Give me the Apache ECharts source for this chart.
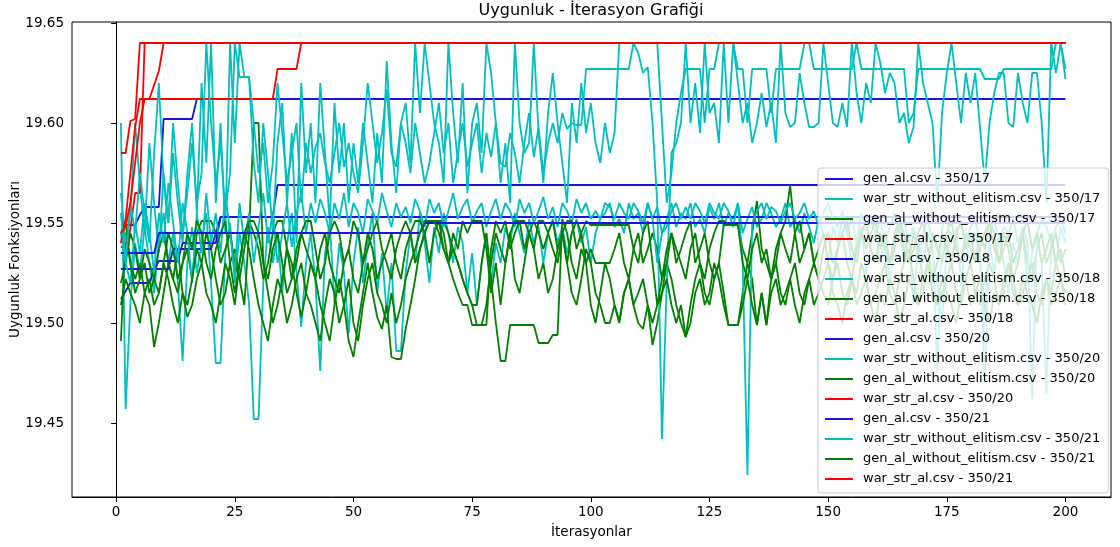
<!DOCTYPE html>
<html>
<head>
<meta charset="utf-8">
<title>Uygunluk - İterasyon Grafiği</title>
<script src="https://cdn.jsdelivr.net/npm/echarts@6/dist/echarts.min.js"></script>
<style>
  html, body { margin: 0; padding: 0; background: #fff; }
  #chart { width: 1120px; height: 547px; }
</style>
</head>
<body>
<div id="chart"></div>
<script>
// iterations 1..200
var iterations = [
  1,2,3,4,5,6,7,8,9,10,11,12,13,14,15,16,17,18,19,20,
  21,22,23,24,25,26,27,28,29,30,31,32,33,34,35,36,37,38,39,40,
  41,42,43,44,45,46,47,48,49,50,51,52,53,54,55,56,57,58,59,60,
  61,62,63,64,65,66,67,68,69,70,71,72,73,74,75,76,77,78,79,80,
  81,82,83,84,85,86,87,88,89,90,91,92,93,94,95,96,97,98,99,100,
  101,102,103,104,105,106,107,108,109,110,111,112,113,114,115,116,117,118,119,120,
  121,122,123,124,125,126,127,128,129,130,131,132,133,134,135,136,137,138,139,140,
  141,142,143,144,145,146,147,148,149,150,151,152,153,154,155,156,157,158,159,160,
  161,162,163,164,165,166,167,168,169,170,171,172,173,174,175,176,177,178,179,180,
  181,182,183,184,185,186,187,188,189,190,191,192,193,194,195,196,197,198,199,200
];

// gen_al / war_str_al : monotone runs, [iteration, value] at each change
var genAl17 = [[1,19.549],[4,19.549],[5,19.554],[6,19.558],[9,19.558],[10,19.602],[16,19.602],[17,19.612],[200,19.612]];
var genAl18 = [[1,19.512],[3,19.520],[7,19.520],[8,19.527],[11,19.527],[12,19.537],[20,19.537],[21,19.545],[22,19.553],[33,19.553],[34,19.569],[200,19.569]];
var genAl20 = [[1,19.527],[8,19.527],[9,19.531],[13,19.531],[14,19.540],[21,19.540],[22,19.553],[200,19.553]];
var genAl21 = [[1,19.535],[8,19.535],[9,19.545],[64,19.545],[65,19.550],[200,19.550]];

var warStrAl17 = [[1,19.585],[2,19.585],[3,19.601],[4,19.602],[5,19.640],[200,19.640]];
var warStrAl18 = [[1,19.538],[2,19.538],[3,19.547],[4,19.565],[5,19.565],[6,19.640],[200,19.640]];
var warStrAl20 = [[1,19.540],[2,19.552],[3,19.575],[4,19.598],[5,19.612],[33,19.612],[34,19.627],[38,19.627],[39,19.640],[200,19.640]];
var warStrAl21 = [[1,19.545],[2,19.548],[3,19.560],[4,19.580],[5,19.600],[6,19.612],[7,19.612],[8,19.619],[9,19.626],[10,19.640],[200,19.640]];

// war_str_without_elitism
var warStrNoEl17 = [
  19.600,19.457,19.510,19.540,19.525,19.548,19.530,19.515,19.540,19.555,19.530,19.545,19.520,19.481,19.530,19.548,19.525,19.540,19.555,19.520,
  19.480,19.480,19.535,19.550,19.520,19.545,19.530,19.510,19.452,19.452,19.520,19.548,19.530,19.545,19.515,19.540,19.555,19.525,19.498,19.530,
  19.545,19.520,19.476,19.535,19.550,19.510,19.540,19.525,19.495,19.530,19.548,19.520,19.540,19.555,19.515,19.535,19.505,19.530,19.486,19.486,
  19.525,19.545,19.530,19.555,19.540,19.520,19.548,19.535,19.555,19.545,19.530,19.548,19.540,19.515,19.535,19.509,19.530,19.545,19.520,19.540,
  19.530,19.548,19.540,19.555,19.545,19.535,19.552,19.540,19.548,19.530,19.545,19.552,19.540,19.548,19.535,19.545,19.552,19.540,19.548,19.530,
  19.545,19.552,19.555,19.560,19.548,19.552,19.545,19.560,19.552,19.555,19.545,19.560,19.552,19.558,19.545,19.552,19.560,19.548,19.555,19.552,
  19.560,19.548,19.552,19.545,19.558,19.552,19.560,19.548,19.555,19.552,19.560,19.545,19.552,19.558,19.548,19.552,19.560,19.555,19.548,19.552,
  19.560,19.548,19.552,19.545,19.555,19.548,19.540,19.552,19.545,19.530,19.548,19.540,19.552,19.545,19.530,19.540,19.548,19.525,19.540,19.545,
  19.530,19.545,19.520,19.540,19.548,19.530,19.545,19.510,19.540,19.530,19.545,19.535,19.520,19.500,19.540,19.530,19.548,19.520,19.540,19.530,
  19.545,19.530,19.500,19.540,19.525,19.545,19.530,19.515,19.540,19.530,19.545,19.520,19.535,19.545,19.530,19.465,19.540,19.530,19.548,19.540
];
var warStrNoEl18 = [
  19.565,19.540,19.555,19.600,19.570,19.545,19.590,19.560,19.535,19.575,19.550,19.585,19.560,19.540,19.575,19.600,19.555,19.620,19.580,19.640,
  19.560,19.600,19.545,19.640,19.590,19.640,19.623,19.623,19.580,19.560,19.600,19.575,19.545,19.590,19.610,19.560,19.595,19.540,19.620,19.575,
  19.600,19.560,19.620,19.585,19.550,19.610,19.575,19.600,19.560,19.590,19.570,19.600,19.580,19.560,19.595,19.570,19.631,19.590,19.565,19.600,
  19.610,19.580,19.640,19.605,19.640,19.620,19.600,19.590,19.570,19.640,19.605,19.580,19.620,19.565,19.600,19.610,19.585,19.640,19.625,19.600,
  19.570,19.590,19.560,19.640,19.600,19.585,19.590,19.640,19.595,19.570,19.605,19.625,19.600,19.580,19.560,19.610,19.590,19.620,19.595,19.610,
  19.590,19.580,19.600,19.585,19.595,19.640,19.640,19.640,19.640,19.635,19.625,19.628,19.600,19.560,19.442,19.520,19.585,19.590,19.600,19.640,
  19.600,19.620,19.595,19.640,19.605,19.610,19.590,19.640,19.600,19.640,19.620,19.600,19.610,19.590,19.600,19.615,19.598,19.610,19.590,19.640,
  19.605,19.598,19.600,19.625,19.610,19.598,19.598,19.600,19.640,19.620,19.600,19.598,19.610,19.598,19.640,19.615,19.600,19.620,19.610,19.640,
  19.630,19.615,19.625,19.620,19.600,19.605,19.590,19.598,19.640,19.620,19.610,19.600,19.560,19.605,19.625,19.640,19.620,19.600,19.625,19.610,
  19.625,19.598,19.570,19.600,19.615,19.625,19.625,19.600,19.598,19.625,19.610,19.600,19.625,19.625,19.600,19.560,19.640,19.625,19.640,19.622
];
var warStrNoEl20 = [
  19.545,19.530,19.520,19.550,19.535,19.560,19.545,19.525,19.555,19.540,19.570,19.550,19.530,19.560,19.545,19.520,19.555,19.535,19.565,19.540,
  19.555,19.535,19.565,19.545,19.525,19.560,19.540,19.555,19.530,19.548,19.565,19.540,19.556,19.530,19.545,19.560,19.538,19.555,19.565,19.545,
  19.560,19.550,19.562,19.555,19.545,19.560,19.552,19.565,19.548,19.560,19.555,19.545,19.562,19.556,19.550,19.565,19.556,19.548,19.560,19.553,
  19.558,19.550,19.562,19.556,19.548,19.562,19.555,19.560,19.548,19.556,19.565,19.552,19.558,19.562,19.550,19.556,19.560,19.548,19.556,19.562,
  19.552,19.560,19.556,19.548,19.562,19.555,19.560,19.550,19.556,19.563,19.552,19.558,19.548,19.560,19.556,19.550,19.562,19.555,19.560,19.552,
  19.556,19.552,19.560,19.558,19.552,19.560,19.555,19.552,19.560,19.556,19.550,19.560,19.552,19.530,19.545,19.548,19.556,19.560,19.552,19.558,
  19.552,19.560,19.556,19.550,19.560,19.555,19.552,19.560,19.556,19.548,19.560,19.530,19.424,19.550,19.556,19.560,19.552,19.558,19.556,19.550,
  19.556,19.560,19.552,19.555,19.560,19.552,19.556,19.548,19.555,19.560,19.552,19.548,19.556,19.545,19.552,19.540,19.555,19.548,19.552,19.545,
  19.552,19.540,19.548,19.555,19.545,19.552,19.540,19.548,19.530,19.545,19.552,19.540,19.475,19.548,19.552,19.540,19.545,19.550,19.540,19.548,
  19.552,19.540,19.470,19.545,19.552,19.540,19.548,19.545,19.552,19.540,19.548,19.540,19.462,19.545,19.552,19.548,19.540,19.548,19.552,19.545
];
var warStrNoEl21 = [
  19.555,19.530,19.560,19.545,19.575,19.555,19.540,19.585,19.620,19.570,19.550,19.600,19.570,19.545,19.565,19.590,19.560,19.575,19.640,19.600,
  19.570,19.590,19.555,19.575,19.640,19.623,19.623,19.623,19.600,19.575,19.590,19.560,19.580,19.620,19.595,19.570,19.585,19.600,19.560,19.590,
  19.575,19.588,19.595,19.580,19.570,19.585,19.600,19.578,19.590,19.575,19.565,19.590,19.620,19.600,19.580,19.595,19.617,19.585,19.578,19.600,
  19.590,19.575,19.600,19.585,19.570,19.580,19.595,19.610,19.585,19.600,19.570,19.585,19.600,19.578,19.590,19.600,19.575,19.595,19.583,19.600,
  19.580,19.578,19.595,19.585,19.570,19.590,19.605,19.583,19.598,19.575,19.590,19.600,19.590,19.605,19.597,19.600,19.599,19.599,19.627,19.627,
  19.627,19.627,19.627,19.627,19.627,19.627,19.627,19.627,19.640,19.640,19.640,19.640,19.640,19.640,19.600,19.560,19.575,19.600,19.615,19.627,
  19.627,19.627,19.627,19.600,19.627,19.627,19.640,19.640,19.640,19.640,19.627,19.627,19.600,19.627,19.627,19.627,19.627,19.605,19.627,19.627,
  19.627,19.627,19.627,19.627,19.640,19.640,19.627,19.627,19.627,19.627,19.627,19.627,19.627,19.627,19.627,19.640,19.627,19.627,19.627,19.627,
  19.627,19.627,19.627,19.627,19.627,19.627,19.600,19.605,19.627,19.627,19.627,19.627,19.627,19.627,19.627,19.627,19.627,19.627,19.627,19.627,
  19.627,19.627,19.622,19.622,19.622,19.622,19.627,19.627,19.627,19.627,19.627,19.627,19.627,19.627,19.627,19.627,19.627,19.640,19.640,19.627
];

// gen_al_without_elitism
var genAlNoEl17 = [
  19.491,19.545,19.530,19.522,19.530,19.515,19.509,19.488,19.500,19.515,19.530,19.522,19.537,19.515,19.503,19.509,19.522,19.530,19.545,19.537,
  19.522,19.509,19.515,19.530,19.537,19.522,19.509,19.545,19.600,19.600,19.530,19.515,19.500,19.509,19.522,19.537,19.530,19.515,19.503,19.515,
  19.530,19.522,19.509,19.500,19.491,19.509,19.522,19.509,19.491,19.483,19.500,19.515,19.530,19.515,19.503,19.497,19.509,19.483,19.482,19.482,
  19.497,19.509,19.522,19.537,19.545,19.551,19.551,19.551,19.545,19.530,19.537,19.530,19.522,19.515,19.509,19.509,19.530,19.545,19.522,19.500,
  19.481,19.481,19.499,19.499,19.499,19.499,19.499,19.499,19.490,19.490,19.490,19.494,19.494,19.552,19.545,19.530,19.522,19.537,19.530,19.509,
  19.500,19.515,19.530,19.522,19.509,19.500,19.515,19.522,19.509,19.500,19.497,19.509,19.489,19.500,19.515,19.530,19.522,19.509,19.500,19.493,
  19.509,19.522,19.530,19.515,19.509,19.522,19.530,19.515,19.499,19.499,19.499,19.515,19.530,19.522,19.499,19.515,19.499,19.522,19.530,19.515,
  19.509,19.522,19.530,19.515,19.509,19.522,19.530,19.522,19.515,19.509,19.522,19.530,19.515,19.509,19.522,19.515,19.530,19.522,19.509,19.515,
  19.522,19.530,19.515,19.509,19.522,19.530,19.537,19.522,19.509,19.515,19.530,19.522,19.509,19.515,19.522,19.530,19.515,19.509,19.522,19.530,
  19.515,19.509,19.522,19.530,19.522,19.509,19.515,19.530,19.522,19.509,19.515,19.522,19.530,19.515,19.509,19.522,19.515,19.530,19.522,19.515
];
var genAlNoEl18 = [
  19.520,19.530,19.545,19.537,19.522,19.530,19.515,19.522,19.537,19.545,19.530,19.522,19.515,19.530,19.537,19.522,19.545,19.551,19.551,19.551,
  19.545,19.530,19.537,19.545,19.530,19.522,19.537,19.551,19.545,19.537,19.522,19.530,19.545,19.551,19.551,19.537,19.522,19.530,19.545,19.537,
  19.530,19.522,19.537,19.545,19.530,19.522,19.515,19.530,19.537,19.522,19.515,19.530,19.545,19.537,19.522,19.530,19.537,19.545,19.530,19.522,
  19.537,19.545,19.551,19.551,19.545,19.551,19.551,19.551,19.551,19.545,19.537,19.530,19.522,19.515,19.509,19.499,19.499,19.499,19.537,19.551,
  19.545,19.551,19.537,19.545,19.551,19.537,19.545,19.551,19.545,19.537,19.545,19.551,19.537,19.545,19.530,19.545,19.551,19.545,19.530,19.537,
  19.530,19.530,19.530,19.530,19.537,19.545,19.530,19.522,19.537,19.545,19.530,19.537,19.545,19.537,19.522,19.530,19.545,19.537,19.530,19.522,
  19.537,19.545,19.530,19.522,19.537,19.545,19.551,19.551,19.549,19.549,19.549,19.537,19.530,19.545,19.561,19.537,19.530,19.522,19.537,19.545,
  19.551,19.569,19.545,19.530,19.537,19.545,19.530,19.522,19.537,19.545,19.530,19.537,19.545,19.530,19.522,19.537,19.545,19.551,19.537,19.530,
  19.545,19.537,19.530,19.545,19.551,19.537,19.530,19.545,19.537,19.522,19.530,19.545,19.537,19.530,19.545,19.551,19.537,19.530,19.545,19.537,
  19.530,19.545,19.537,19.551,19.545,19.530,19.537,19.545,19.530,19.537,19.545,19.530,19.522,19.537,19.545,19.530,19.537,19.545,19.530,19.537
];
var genAlNoEl20 = [
  19.545,19.551,19.530,19.515,19.522,19.537,19.530,19.522,19.515,19.530,19.545,19.537,19.522,19.530,19.545,19.537,19.551,19.545,19.530,19.522,
  19.537,19.545,19.551,19.530,19.515,19.530,19.545,19.551,19.551,19.545,19.530,19.522,19.537,19.545,19.530,19.515,19.522,19.537,19.545,19.551,
  19.551,19.537,19.522,19.530,19.545,19.551,19.545,19.530,19.537,19.551,19.545,19.530,19.537,19.545,19.551,19.537,19.530,19.522,19.537,19.545,
  19.551,19.545,19.530,19.537,19.545,19.530,19.545,19.551,19.537,19.530,19.545,19.537,19.551,19.545,19.551,19.551,19.551,19.537,19.515,19.530,
  19.509,19.530,19.545,19.551,19.551,19.551,19.545,19.537,19.551,19.551,19.545,19.537,19.530,19.545,19.551,19.551,19.537,19.545,19.551,19.549,
  19.549,19.549,19.549,19.549,19.549,19.549,19.549,19.549,19.537,19.530,19.545,19.551,19.530,19.509,19.522,19.537,19.545,19.530,19.537,19.545,
  19.551,19.530,19.537,19.545,19.530,19.522,19.530,19.549,19.549,19.549,19.549,19.530,19.522,19.537,19.545,19.530,19.537,19.522,19.530,19.545,
  19.537,19.530,19.545,19.551,19.537,19.545,19.530,19.537,19.545,19.530,19.522,19.537,19.545,19.551,19.537,19.530,19.545,19.537,19.545,19.551,
  19.537,19.545,19.530,19.537,19.551,19.545,19.530,19.537,19.545,19.551,19.537,19.522,19.530,19.545,19.537,19.530,19.545,19.551,19.537,19.545,
  19.530,19.537,19.545,19.551,19.537,19.530,19.545,19.537,19.522,19.530,19.545,19.551,19.537,19.545,19.530,19.537,19.545,19.530,19.537,19.522
];
var genAlNoEl21 = [
  19.509,19.522,19.515,19.509,19.500,19.515,19.522,19.509,19.515,19.530,19.522,19.509,19.500,19.515,19.509,19.522,19.537,19.530,19.515,19.509,
  19.500,19.515,19.530,19.522,19.509,19.530,19.545,19.537,19.522,19.509,19.500,19.491,19.509,19.522,19.515,19.500,19.509,19.522,19.530,19.515,
  19.509,19.500,19.491,19.509,19.522,19.515,19.500,19.509,19.522,19.500,19.491,19.509,19.522,19.530,19.515,19.509,19.500,19.515,19.500,19.509,
  19.522,19.530,19.537,19.545,19.551,19.551,19.551,19.545,19.537,19.530,19.522,19.515,19.509,19.509,19.499,19.499,19.499,19.509,19.530,19.545,
  19.537,19.530,19.545,19.522,19.515,19.530,19.545,19.537,19.522,19.530,19.515,19.522,19.537,19.545,19.530,19.515,19.509,19.522,19.537,19.530,
  19.515,19.509,19.500,19.500,19.509,19.501,19.515,19.522,19.509,19.515,19.522,19.509,19.500,19.509,19.515,19.522,19.509,19.500,19.509,19.493,
  19.500,19.515,19.522,19.509,19.515,19.530,19.522,19.509,19.499,19.499,19.499,19.509,19.522,19.509,19.499,19.515,19.499,19.515,19.522,19.509,
  19.515,19.522,19.509,19.500,19.515,19.522,19.509,19.515,19.522,19.530,19.515,19.509,19.500,19.515,19.522,19.509,19.515,19.522,19.509,19.500,
  19.515,19.509,19.522,19.515,19.500,19.509,19.522,19.515,19.509,19.522,19.530,19.515,19.509,19.522,19.515,19.509,19.500,19.515,19.522,19.509,
  19.515,19.522,19.509,19.500,19.515,19.509,19.522,19.530,19.515,19.509,19.522,19.515,19.509,19.500,19.515,19.522,19.509,19.515,19.522,19.509
];

var runs = ['350/17', '350/18', '350/20', '350/21'];
var colors = { gen: '#1515e6', war: '#00bfbf', genNo: '#008000', warAl: '#ff0000' };

function pairs(values) {
  return values.map(function (v, i) { return [iterations[i], v]; });
}

var blocks = [
  [genAl17, warStrNoEl17, genAlNoEl17, warStrAl17],
  [genAl18, warStrNoEl18, genAlNoEl18, warStrAl18],
  [genAl20, warStrNoEl20, genAlNoEl20, warStrAl20],
  [genAl21, warStrNoEl21, genAlNoEl21, warStrAl21]
];

var series = [];
blocks.forEach(function (b, k) {
  var r = runs[k];
  series.push({ name: 'gen_al.csv - ' + r, data: b[0], color: colors.gen });
  series.push({ name: 'war_str_without_elitism.csv - ' + r, data: pairs(b[1]), color: colors.war });
  series.push({ name: 'gen_al_without_elitism.csv - ' + r, data: pairs(b[2]), color: colors.genNo });
  series.push({ name: 'war_str_al.csv - ' + r, data: b[3], color: colors.warAl });
});
series = series.map(function (s) {
  return {
    name: s.name,
    type: 'line',
    data: s.data,
    showSymbol: false,
    symbol: 'none',
    itemStyle: { color: s.color },
    lineStyle: { color: s.color, width: 1.8 }
  };
});

var font = 'DejaVu Sans';
var chart = echarts.init(document.getElementById('chart'));
chart.setOption({
  animation: false,
  backgroundColor: '#ffffff',
  textStyle: { fontFamily: font },
  title: {
    text: 'Uygunluk - İterasyon Grafiği',
    left: 591,
    top: 3,
    padding: 0,
    textAlign: 'center',
    textStyle: { fontFamily: font, fontSize: 16, fontWeight: 'normal', color: '#000' }
  },
  grid: {
    left: 72, right: 9, top: 22, bottom: 50,
    containLabel: false,
    outerBoundsMode: 'none',
    show: true, borderColor: '#000', borderWidth: 1, backgroundColor: 'transparent'
  },
  legend: {
    orient: 'vertical',
    left: 818,
    top: 168,
    padding: [4, 8, 7, 7],
    itemGap: 6,
    itemWidth: 28,
    itemHeight: 2,
    icon: 'rect',
    backgroundColor: 'rgba(255,255,255,0.8)',
    borderColor: '#cccccc',
    borderWidth: 1,
    borderRadius: 3,
    textStyle: { fontFamily: font, fontSize: 13, lineHeight: 14, color: '#000', padding: [0, 0, 0, 5] }
  },
  xAxis: {
    type: 'value',
    min: -9.3,
    max: 209.6,
    minInterval: 25,
    maxInterval: 25,
    name: 'İterasyonlar',
    nameLocation: 'middle',
    nameGap: 28,
    nameTextStyle: { fontFamily: font, fontSize: 13.5, color: '#000' },
    axisLine: { show: true, lineStyle: { color: '#000', width: 1 } },
    axisTick: { show: true, length: 5, lineStyle: { color: '#000' } },
    axisLabel: { showMinLabel: false, showMaxLabel: false, margin: 8, fontFamily: font, fontSize: 13.5, color: '#000' },
    splitLine: { show: false }
  },
  yAxis: {
    type: 'value',
    min: 19.413,
    max: 19.6505,
    minInterval: 0.05,
    maxInterval: 0.05,
    name: 'Uygunluk Fonksiyonları',
    nameLocation: 'middle',
    nameRotate: 90,
    nameGap: 50,
    nameMoveOverlap: false,
    nameTextStyle: { fontFamily: font, fontSize: 13.5, color: '#000' },
    axisLine: { show: true, lineStyle: { color: '#000', width: 1 } },
    axisTick: { show: true, length: 5, lineStyle: { color: '#000' } },
    axisLabel: {
      showMinLabel: false, showMaxLabel: false, margin: 8,
      fontFamily: font, fontSize: 13.5, color: '#000',
      formatter: function (v) { return v.toFixed(2); }
    },
    splitLine: { show: false }
  },
  series: series
});
</script>
</body>
</html>
